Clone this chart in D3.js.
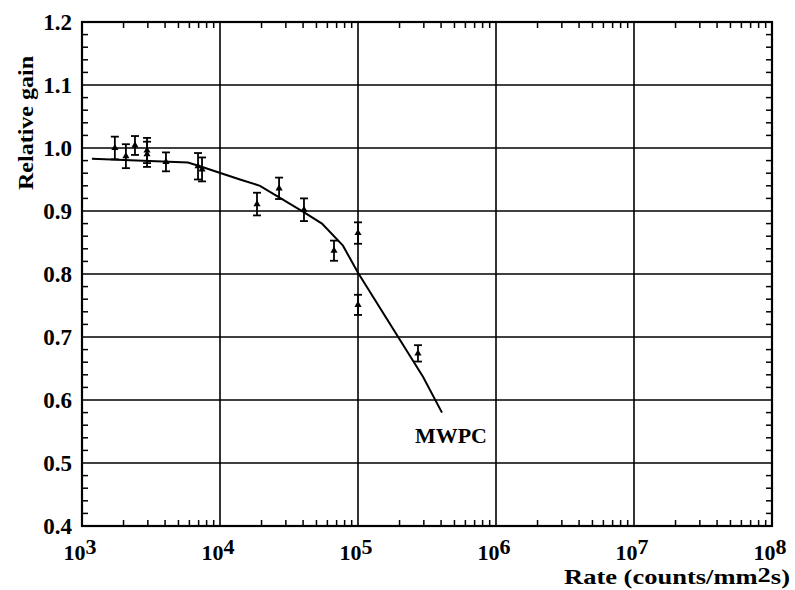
<!DOCTYPE html>
<html>
<head>
<meta charset="utf-8">
<script src="https://cdn.jsdelivr.net/npm/d3@7"></script>
<style>
  html, body { margin: 0; padding: 0; background: #fff; }
  svg { display: block; }
</style>
</head>
<body>
<svg id="chart" width="795" height="590"></svg>
<script>
// Measured gain vs. rate (points with error bars)
const rate    = [1730, 2080, 2420, 2960, 2960, 4060, 6930, 7410, 18540, 26800, 40600, 67000, 100000, 100000, 272000];
const gain    = [1.000, 0.987, 1.004, 0.996, 0.990, 0.978, 0.971, 0.966, 0.911, 0.936, 0.902, 0.837, 0.865, 0.751, 0.674];
const gainErr = [0.018, 0.019, 0.015, 0.020, 0.020, 0.015, 0.021, 0.019, 0.018, 0.017, 0.018, 0.016, 0.017, 0.016, 0.013];

// MWPC reference curve
const curveRate = [1180, 5860, 7160, 13960, 19500, 39900, 54800, 77800, 100000, 295800, 406000];
const curveGain = [0.983, 0.977, 0.971, 0.950, 0.940, 0.899, 0.880, 0.845, 0.802, 0.637, 0.580];

// Axis ticks
const xExponents = [3, 4, 5, 6, 7, 8];
const yTicks = [0.4, 0.5, 0.6, 0.7, 0.8, 0.9, 1.0, 1.1, 1.2];

const svg = d3.select("#chart")
  .attr("font-family", "'Liberation Serif', 'Times New Roman', Times, 'DejaVu Serif', serif")
  .attr("font-weight", "bold");
const plotL = 82, plotR = 772, plotT = 22, plotB = 526;

const x = d3.scaleLog().domain([1e3, 1e8]).range([plotL, plotR]);
const y = d3.scaleLinear().domain([0.4, 1.2]).range([plotB, plotT]);

// grid lines
const grid = svg.append("g").attr("stroke", "#000").attr("stroke-width", 1.6);
grid.selectAll("line.v").data(xExponents.slice(1, -1)).join("line")
  .attr("x1", d => x(Math.pow(10, d))).attr("x2", d => x(Math.pow(10, d)))
  .attr("y1", plotT).attr("y2", plotB);
grid.selectAll("line.h").data(yTicks.slice(1, -1)).join("line")
  .attr("x1", plotL).attr("x2", plotR)
  .attr("y1", d => y(d)).attr("y2", d => y(d));

// minor ticks, pointing inward on all four sides
const xMinor = [];
for (let e = 3; e < 8; e++) for (let k = 2; k <= 9; k++) xMinor.push(k * Math.pow(10, e));
const yMinor = d3.range(0.42, 1.2, 0.02).filter(v => Math.abs(v * 10 - Math.round(v * 10)) > 1e-6);
const ticks = svg.append("g").attr("stroke", "#000").attr("stroke-width", 1.5);
const tl = 6;
ticks.selectAll("line.xb").data(xMinor).join("line")
  .attr("x1", d => x(d)).attr("x2", d => x(d)).attr("y1", plotB).attr("y2", plotB - tl);
ticks.selectAll("line.xt").data(xMinor).join("line")
  .attr("x1", d => x(d)).attr("x2", d => x(d)).attr("y1", plotT).attr("y2", plotT + tl);
ticks.selectAll("line.yl").data(yMinor).join("line")
  .attr("x1", plotL).attr("x2", plotL + tl).attr("y1", d => y(d)).attr("y2", d => y(d));
ticks.selectAll("line.yr").data(yMinor).join("line")
  .attr("x1", plotR).attr("x2", plotR - tl).attr("y1", d => y(d)).attr("y2", d => y(d));

// frame
svg.append("rect").attr("x", plotL).attr("y", plotT)
  .attr("width", plotR - plotL).attr("height", plotB - plotT)
  .attr("fill", "none").attr("stroke", "#000").attr("stroke-width", 2.2);

// y tick labels
svg.append("g").selectAll("text").data(yTicks).join("text")
  .attr("x", plotL - 10).attr("y", d => y(d)).attr("dy", "0.35em")
  .attr("text-anchor", "end").attr("font-size", 23)
  .text(d => d.toFixed(1));

// x tick labels: 10 with superscript exponent
const xl = svg.append("g").selectAll("text").data(xExponents).join("text")
  .attr("x", d => x(Math.pow(10, d)) - 2).attr("y", 560)
  .attr("text-anchor", "middle").attr("font-size", 22);
xl.append("tspan").text("10");
xl.append("tspan").attr("dy", -6).text(d => d);

// axis titles
svg.append("text")
  .attr("transform", "translate(33,123) rotate(-90)")
  .attr("text-anchor", "middle").attr("font-size", 22)
  .attr("textLength", 134).attr("lengthAdjust", "spacingAndGlyphs")
  .text("Relative gain");
const xt = svg.append("text").attr("x", 790).attr("y", 584)
  .attr("text-anchor", "end").attr("font-size", 21)
  .attr("textLength", 226).attr("lengthAdjust", "spacingAndGlyphs");
xt.append("tspan").text("Rate (counts/mm");
xt.append("tspan").attr("dy", -2).text("2");
xt.append("tspan").attr("dy", 2).text("s)");

// MWPC curve
const line = d3.line().x(d => x(d[0])).y(d => y(d[1]));
svg.append("path")
  .datum(curveRate.map((r, i) => [r, curveGain[i]]))
  .attr("d", line).attr("fill", "none").attr("stroke", "#000").attr("stroke-width", 2);
svg.append("text").attr("x", 415).attr("y", 443).attr("font-size", 21)
  .attr("textLength", 72).attr("lengthAdjust", "spacingAndGlyphs")
  .text("MWPC");

// data points with error bars
const pts = svg.append("g").attr("stroke", "#000").attr("stroke-width", 1.8);
const data = rate.map((r, i) => ({ r, g: gain[i], e: gainErr[i] }));
const cap = 4;
pts.selectAll("line.bar").data(data).join("line")
  .attr("x1", d => x(d.r)).attr("x2", d => x(d.r))
  .attr("y1", d => y(d.g + d.e)).attr("y2", d => y(d.g - d.e));
pts.selectAll("line.capt").data(data).join("line")
  .attr("x1", d => x(d.r) - cap).attr("x2", d => x(d.r) + cap)
  .attr("y1", d => y(d.g + d.e)).attr("y2", d => y(d.g + d.e));
pts.selectAll("line.capb").data(data).join("line")
  .attr("x1", d => x(d.r) - cap).attr("x2", d => x(d.r) + cap)
  .attr("y1", d => y(d.g - d.e)).attr("y2", d => y(d.g - d.e));
const tri = d3.symbol().type(d3.symbolTriangle).size(22);
svg.append("g").selectAll("path").data(data).join("path")
  .attr("transform", d => `translate(${x(d.r)},${y(d.g)})`)
  .attr("d", tri).attr("fill", "#000");
</script>
</body>
</html>
